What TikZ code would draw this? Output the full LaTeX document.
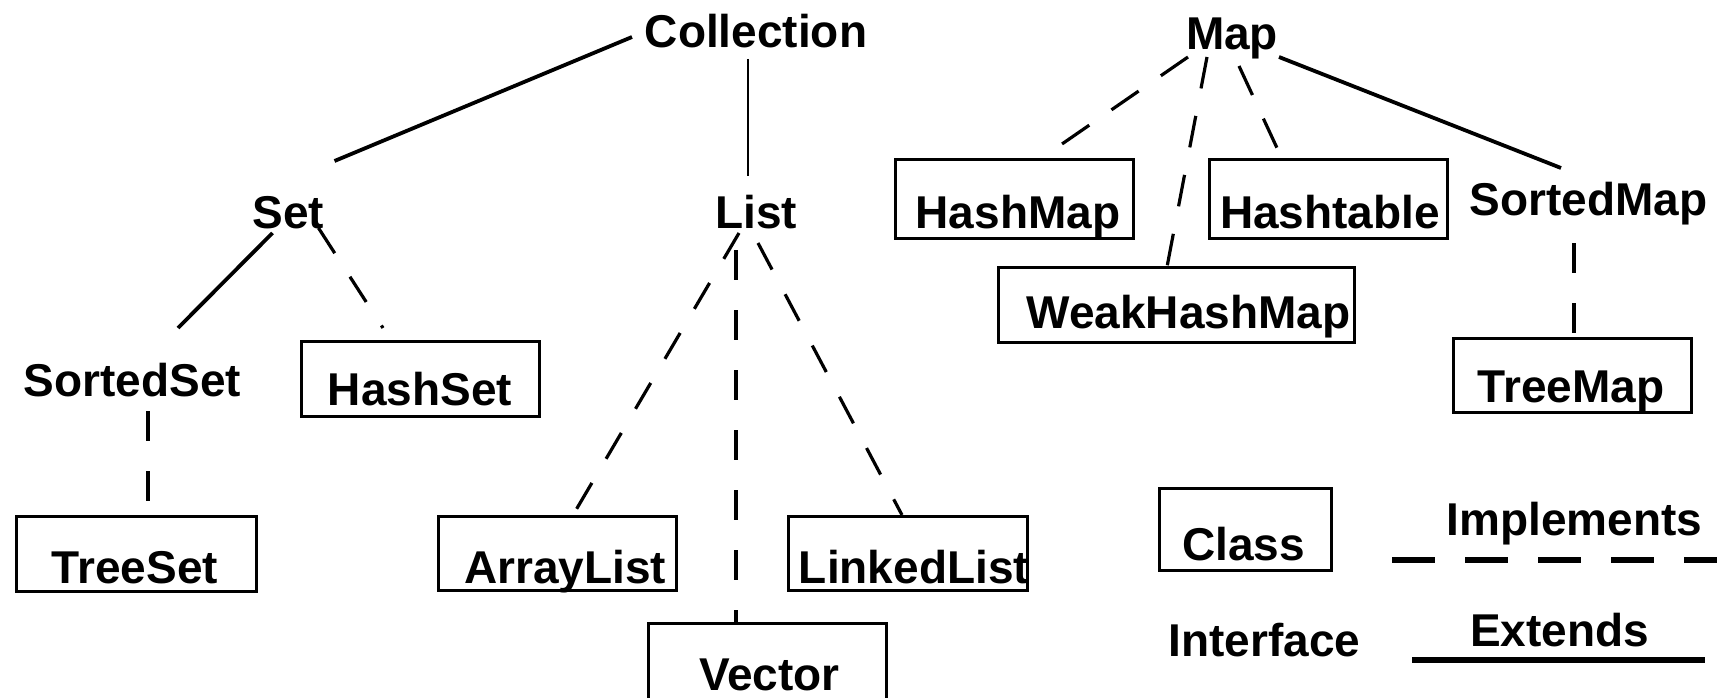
\documentclass[tikz,border=0pt]{standalone}
\usepackage{fontspec}
\setmainfont{Liberation Sans}
\newcommand{\clstext}[2]{\makebox[0pt]{\hspace*{#1pt}#2}}
\begin{document}
\begin{tikzpicture}[x=1pt,y=-1pt,
  every node/.style={font=\bfseries\fontsize{46}{55}\selectfont, inner sep=0pt, outer sep=0pt},
  iface/.style={anchor=base},
  classbox/.style={draw, rectangle, line width=3pt, minimum width=238pt},
  extline/.style={line width=3.8pt},
  thinline/.style={line width=2.4pt},
  implline/.style={line width=3.2pt, dash pattern=on 30pt off 28pt},
  legimpl/.style={line width=6.5pt, dash pattern=on 43pt off 30pt},
  legext/.style={line width=6.5pt}]
\useasboundingbox (0,0) rectangle (1717,698);

% interfaces
\node[iface] (collection) at (756,48) {Collection};
\node[iface] (set) at (288.5,229) {Set};
\node[iface] (list) at (756,229) {List};
\node[iface] (map) at (1232,50) {Map};
\node[iface] (sortedset) at (132.5,396) {SortedSet};
\node[iface] (sortedmap) at (1588.5,215) {SortedMap};

% classes
\node[classbox, minimum width=240pt, text height=67pt, text depth=8pt] (treeset) at (136,553.5) {\clstext{-2}{TreeSet}};
\node[classbox, text height=64pt, text depth=11pt] (hashset) at (420,378.5) {\clstext{0}{HashSet}};
\node[classbox, text height=67pt, text depth=7pt] (arraylist) at (557,553) {\clstext{16}{ArrayList}};
\node[classbox, minimum width=239pt, text height=67pt, text depth=7pt] (linkedlist) at (907.5,553) {\clstext{13}{LinkedList}};
\node[classbox, text height=67pt, text depth=13pt] (vector) at (767,663) {\clstext{5}{Vector}};
\node[classbox, text height=68pt, text depth=10pt] (hashmap) at (1014,199) {\clstext{8}{HashMap}};
\node[classbox, text height=68pt, text depth=10pt] (hashtable) at (1328,199) {\clstext{4}{Hashtable}};
\node[classbox, minimum width=356pt, text height=61pt, text depth=14pt] (weakhashmap) at (1176,304.5) {\clstext{25}{WeakHashMap}};
\node[classbox, text height=64pt, text depth=10pt] (treemap) at (1572,375) {\clstext{-2}{TreeMap}};

% extends (solid)
\draw[extline] ([shift={(-124,-11)}]collection.base) -- ([shift={(46,-68)}]set.base);
\draw[thinline] ([shift={(-8,11)}]collection.base) -- ([shift={(-8,-53)}]list.base);
\draw[extline] ([shift={(-16,4)}]set.base) -- ([shift={(45.5,-68)}]sortedset.base);
\draw[extline] ([shift={(47,7)}]map.base) -- ([shift={(-27.5,-47)}]sortedmap.base);

% implements (dashed)
\draw[implline] ([shift={(30,-1)}]set.base) -- ([shift={(-37,-13)}]hashset.north);
\draw[implline, dash pattern=on 30pt off 30pt] ([shift={(15.5,15)}]sortedset.base) -- ([shift={(12,-15)}]treeset.north);
\draw[implline] ([shift={(-17,4)}]list.base) -- ([shift={(16,-1)}]arraylist.north);
\draw[implline, dash pattern=on 30pt off 30pt] ([shift={(-20,21)}]list.base) -- ([shift={(-31,0)}]vector.north);
\draw[implline] ([shift={(2,14)}]list.base) -- ([shift={(-5.5,-1)}]linkedlist.north);
\draw[implline, dash pattern=on 33pt off 27pt] ([shift={(-44,7)}]map.base) -- ([shift={(48,-16)}]hashmap.north);
\draw[implline, dash pattern=on 32pt off 28pt] ([shift={(-25,7)}]map.base) -- ([shift={(-9,0)}]weakhashmap.north);
\draw[implline, dash pattern=on 32pt off 26pt] ([shift={(7,16)}]map.base) -- ([shift={(-51,-12)}]hashtable.north);
\draw[implline, dash pattern=on 30pt off 30pt] ([shift={(-14.5,28)}]sortedmap.base) -- ([shift={(2,-5)}]treemap.north);

% legend
\node[classbox, minimum width=172pt, text height=72pt, text depth=10pt] (classkey) at (1245,529) {\clstext{-3}{Class}};
\node[iface] (interfacekey) at (1264.5,656) {Interface};
\node[iface] (implementskey) at (1574.5,535) {Implements};
\node[iface] (extendskey) at (1559.5,646) {Extends};
\coordinate (implstart) at (1392,560);
\coordinate (implend) at (1730,560);
\coordinate (extstart) at (1412,660);
\coordinate (extend) at (1705,660);
\draw[legimpl] (implstart) -- (implend);
\draw[legext] (extstart) -- (extend);
\end{tikzpicture}
\end{document}
